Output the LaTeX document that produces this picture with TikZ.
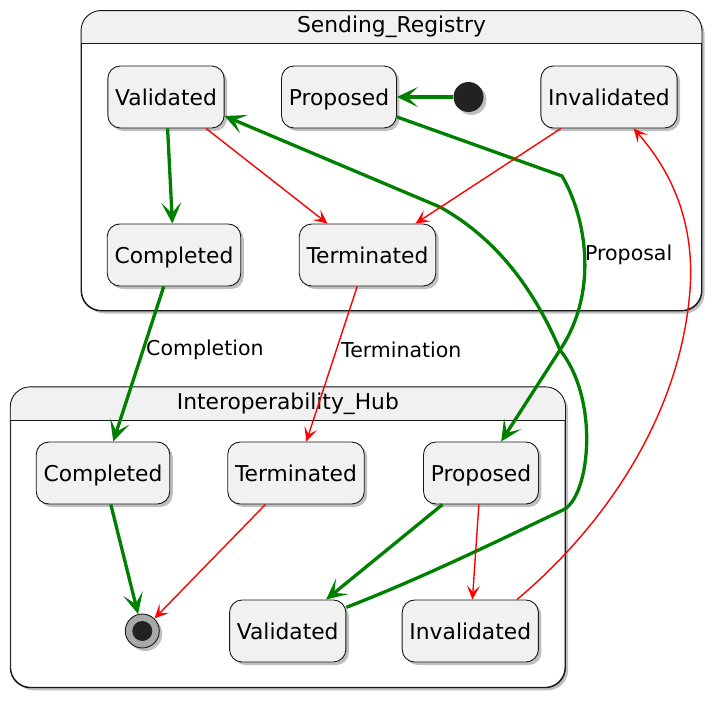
\documentclass[tikz,border=0pt]{standalone}
\usepackage{fontspec}
\setmainfont{DejaVu Sans}
\usetikzlibrary{arrows.meta,shadows}
\definecolor{boxfill}{HTML}{F1F1F1}
\definecolor{boxline}{HTML}{181818}
\definecolor{okgreen}{HTML}{008000}
\definecolor{dotfill}{HTML}{222222}
\definecolor{ringfill}{HTML}{A8A8A8}

\begin{document}
\begin{tikzpicture}[x=1pt,y=-1pt,
        font=\fontsize{21.8}{26}\selectfont,
        shadowed/.style={drop shadow={shadow xshift=3pt,shadow yshift=-3pt,opacity=.25,fill=black}},
        rim/.style={draw=boxline,line width=.9pt},
        state/.style={rim,fill=boxfill,rounded corners=12.5pt,minimum height=62pt,inner xsep=7.3pt,
            text height=16pt,text depth=0pt,shadowed},
        group/.style={rim,fill=white,rounded corners=20pt,shadowed},
        greenflow/.style={draw=okgreen,line width=3.3pt,-{Stealth[length=21pt,width=20pt,inset=10.5pt]}},
        redflow/.style={draw=red,line width=1.4pt,-{Stealth[length=14pt,width=13pt,inset=6.5pt]}},
        lbl/.style={anchor=west,inner sep=0pt,font=\fontsize{20.5}{24}\selectfont}]
                \useasboundingbox (0,0) rectangle (718,704);

                \node[group,minimum width=620pt,minimum height=299.5pt] (sreg) at (391.5,160.75) {};
                \begin{scope}
                    \clip (sreg.north west) rectangle ([yshift=-33pt]sreg.north east);
                    \fill[boxfill,rounded corners=20pt] (sreg.north west) rectangle (sreg.south east);
                \end{scope}
                \draw[rim] ([yshift=-33pt]sreg.north west) -- ([yshift=-33pt]sreg.north east);
                \draw[rim,rounded corners=20pt] (sreg.north west) rectangle (sreg.south east);
                \node (sregtitle) at ([yshift=-16.5pt]sreg.north) {Sending\_Registry};

                \node[group,minimum width=554.3pt,minimum height=300pt] (ihub) at (287.85,537.3) {};
                \begin{scope}
                    \clip (ihub.north west) rectangle ([yshift=-33.4pt]ihub.north east);
                    \fill[boxfill,rounded corners=20pt] (ihub.north west) rectangle (ihub.south east);
                \end{scope}
                \draw[rim] ([yshift=-33.4pt]ihub.north west) -- ([yshift=-33.4pt]ihub.north east);
                \draw[rim,rounded corners=20pt] (ihub.north west) rectangle (ihub.south east);
                \node (ihubtitle) at ([yshift=-16.7pt]ihub.north) {Interoperability\_Hub};

                \node[state] (sval) at (166,97) {Validated};
                \node[state] (sprop) at (339,97) {Proposed};
                \node[circle,fill=dotfill,minimum size=30pt,inner sep=0pt,shadowed] (init) at (468.5,97) {};
                \node[state] (sinv) at (609,97) {Invalidated};
                \node[state] (scomp) at (174,255) {Completed};
                \node[state] (sterm) at (367.5,255) {Terminated};

                \node[state] (hcomp) at (103,473) {Completed};
                \node[state] (hterm) at (296,473) {Terminated};
                \node[state] (hprop) at (481,473) {Proposed};
                \node[circle,rim,fill=ringfill,minimum size=34pt,inner sep=0pt,shadowed,
                    path picture={\fill[dotfill] (path picture bounding box.center) circle (10pt);}] (fin) at (142.3,631) {};
                \node[state] (hval) at (287.7,631) {Validated};
                \node[state] (hinv) at (470.3,631) {Invalidated};

                \draw[greenflow] (init) -- (sprop);
                \draw[greenflow] (sprop.-19.6) -- (562,176) .. controls (585,215) and (600,290) .. (560,350) -- (hprop);
                \draw[greenflow] (hval.22) .. controls (430,575) and (520,530) .. (563,510)
                    .. controls (590,497) and (600,400) .. (560,350)
                    .. controls (530,280) and (490,235) .. (440,207) -- (sval.-18.5);
                \draw[greenflow] (sval) -- (scomp);
                \draw[redflow] (sval) -- (sterm);
                \draw[redflow] (sinv) -- (sterm);
                \draw[greenflow] (scomp) -- (hcomp);
                \draw[redflow] (sterm) -- (hterm);
                \draw[greenflow] (hprop) -- (hval);
                \draw[redflow] (hprop) -- (hinv);
                \draw[greenflow] (hcomp) -- (fin);
                \draw[redflow] (hterm) -- (fin);
                \draw[redflow] (hinv.34.6) .. controls (600,530) and (680,420) .. (690,290)
                    .. controls (695,220) and (670,170) .. (sinv.-52.6);

                \node[lbl] (lprop) at (585,255) {Proposal};
                \node[lbl] (lcomp) at (146,350) {Completion};
                \node[lbl] (lterm) at (341,350) {Termination};
\end{tikzpicture}
\end{document}
